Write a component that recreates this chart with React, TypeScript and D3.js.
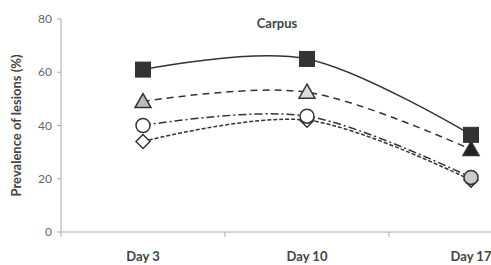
import React from "react";
import * as d3 from "d3";

const days = ["Day 3", "Day 10", "Day 17"];
const yTicks = [0, 20, 40, 60, 80];

const squareVals = [61, 65, 36.5];
const triangleVals = [49, 52.5, 31];
const circleVals = [40, 43.5, 20.5];
const diamondVals = [34, 42, 19.5];

const squareFills = ["#333", "#333", "#333"];
const triangleFills = ["#bbb", "#ddd", "#222"];
const circleFills = ["#fff", "#fff", "#ccc"];
const diamondFills = ["#fff", "#fff", "#fff"];

const W = 491;
const H = 265;
const margin = { left: 61, right: -62, top: 19, bottom: 33 };

// drawn bottom to top
const series = [
  { name: "diamond", values: diamondVals, fills: diamondFills, dash: "4,2", shape: "diamond" },
  { name: "circle", values: circleVals, fills: circleFills, dash: "8,3,2,3", shape: "circle" },
  { name: "triangle", values: triangleVals, fills: triangleFills, dash: "7,5", shape: "triangle" },
  { name: "square", values: squareVals, fills: squareFills, dash: "none", shape: "square" },
];

function Marker({ shape, x, y, fill }: { shape: string; x: number; y: number; fill: string }) {
  const stroke = "#333";
  if (shape === "square")
    return <rect x={x - 7.5} y={y - 7.5} width={15} height={15} fill={fill} stroke={stroke} strokeWidth={1} />;
  if (shape === "triangle")
    return <path d={`M${x},${y - 8} L${x + 8},${y + 6} L${x - 8},${y + 6} Z`} fill={fill} stroke={stroke} strokeWidth={1.5} />;
  if (shape === "circle") return <circle cx={x} cy={y} r={7} fill={fill} stroke={stroke} strokeWidth={1.5} />;
  return <path d={`M${x},${y - 7} L${x + 7},${y} L${x},${y + 7} L${x - 7},${y} Z`} fill={fill} stroke={stroke} strokeWidth={1.5} />;
}

export default function App() {
  const x = d3.scaleBand().domain(days).range([margin.left, W - margin.right]);
  const y = d3.scaleLinear().domain([0, 80]).range([H - margin.bottom, margin.top]);
  const cx = (d: string) => (x(d) ?? 0) + x.bandwidth() / 2;

  const line = d3
    .line<number>()
    .x((_, i) => cx(days[i]))
    .y((v) => y(v))
    .curve(d3.curveCardinal.tension(0));

  const font = "Lato, 'Open Sans', sans-serif";
  const bounds = [margin.left, ...days.slice(1).map((d) => x(d) ?? 0)];

  return (
    <svg width={W} height={H} style={{ position: "absolute", left: 0, top: 0, background: "#fff" }} fontFamily={font}>
      {/* axes */}
      <line x1={margin.left} x2={W} y1={y(0)} y2={y(0)} stroke="#aaa" />
      <line x1={margin.left} x2={margin.left} y1={y(0)} y2={y(80)} stroke="#aaa" />
      {yTicks.map((t) => (
        <g key={t}>
          <line x1={margin.left - 4} x2={margin.left} y1={y(t)} y2={y(t)} stroke="#aaa" />
          <text x={margin.left - 9} y={y(t)} dy="0.35em" textAnchor="end" fontSize={12} fill="#666">
            {t}
          </text>
        </g>
      ))}
      {bounds.map((b, i) => (
        <line key={i} x1={b} x2={b} y1={y(0)} y2={y(0) + 5} stroke="#aaa" />
      ))}
      {days.map((d) => (
        <text key={d} x={cx(d)} y={261} textAnchor="middle" fontSize={13} fontWeight="bold" fill="#444">
          {d}
        </text>
      ))}
      <text
        transform={`translate(21,${(y(0) + y(80)) / 2}) rotate(-90)`}
        textAnchor="middle"
        fontSize={13}
        fontWeight="bold"
        fill="#444"
      >
        Prevalence of lesions (%)
      </text>
      <text x={277} y={28} textAnchor="middle" fontSize={13} fontWeight="bold" fill="#444">
        Carpus
      </text>
      {/* lines */}
      {series.map((s) => (
        <path key={s.name} d={line(s.values) ?? ""} fill="none" stroke="#333" strokeWidth={1.5} strokeDasharray={s.dash} />
      ))}
      {series.map((s) =>
        s.values.map((v, i) => <Marker key={s.name + i} shape={s.shape} x={cx(days[i])} y={y(v)} fill={s.fills[i]} />)
      )}
    </svg>
  );
}
